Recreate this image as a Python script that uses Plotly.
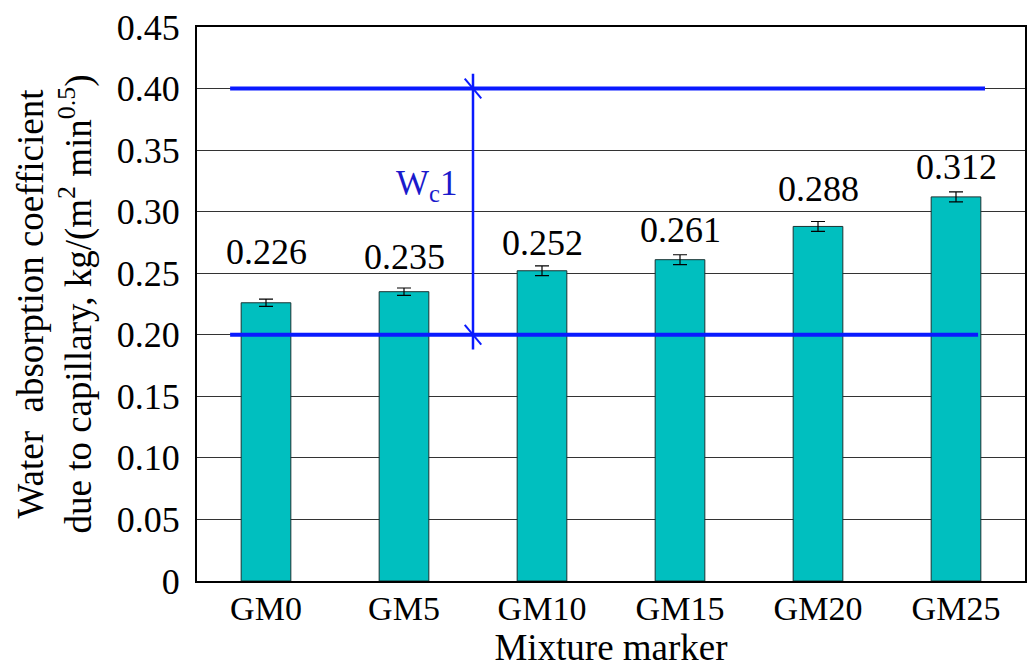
import plotly.graph_objects as go

categories = ["GM0", "GM5", "GM10", "GM15", "GM20", "GM25"]
values = [0.226, 0.235, 0.252, 0.261, 0.288, 0.312]
errors = [0.003, 0.003, 0.004, 0.004, 0.004, 0.004]
labels = ["0.226", "0.235", "0.252", "0.261", "0.288", "0.312"]
ytick_vals = [0, 0.05, 0.10, 0.15, 0.20, 0.25, 0.30, 0.35, 0.40, 0.45]
ytick_text = ["0", "0.05", "0.10", "0.15", "0.20", "0.25", "0.30", "0.35", "0.40", "0.45"]
upper_limit = 0.40
lower_limit = 0.20

# pixel lift of each value label above its bar (style only)
label_lift_px = [51, 35, 28, 30, 37, 30]

x = list(range(len(categories)))
font = "Liberation Serif"
blue = "#0a1aff"

fig = go.Figure()
fig.add_trace(go.Bar(
    x=x, y=values, width=0.36,
    marker=dict(color="#00BFBF", line=dict(color="#1a3333", width=1)),
    error_y=dict(type="data", array=errors, visible=True, color="black", thickness=1.2, width=7),
    showlegend=False,
))
for xi, v, lab, lift in zip(x, values, labels, label_lift_px):
    fig.add_annotation(x=xi, y=v, text=lab, showarrow=False, yanchor="middle", yshift=lift,
                       font=dict(family=font, size=36, color="black"))

# limit lines
fig.add_shape(type="line", x0=-0.26, x1=5.21, y0=upper_limit, y1=upper_limit,
              line=dict(color=blue, width=4))
fig.add_shape(type="line", x0=-0.26, x1=5.16, y0=lower_limit, y1=lower_limit,
              line=dict(color=blue, width=4))
# vertical dimension line
fig.add_shape(type="line", x0=1.5, x1=1.5, y0=0.188, y1=0.412,
              line=dict(color=blue, width=2.5))
for yv in (upper_limit, lower_limit):
    fig.add_shape(type="line", x0=1.44, x1=1.56, y0=yv + 0.008, y1=yv - 0.008,
                  line=dict(color=blue, width=2))
fig.add_annotation(x=1.395, y=0.321, text="W<sub>c</sub>1", showarrow=False, xanchor="right",
                   font=dict(family=font, size=35, color="#1a1acc"))

fig.update_layout(
    width=1029, height=669,
    margin=dict(l=197, r=4, t=27, b=88, autoexpand=False),
    plot_bgcolor="white", paper_bgcolor="white",
    font=dict(family=font, size=36, color="black"),
)
fig.update_xaxes(
    range=[-0.5, 5.5], tickvals=x, ticktext=categories, automargin=False,
    showgrid=False, showline=True, linecolor="black", linewidth=2, mirror=True,
    ticks="", tickfont=dict(family=font, size=34), zeroline=False, ticklabelstandoff=-4,
    title=dict(text="Mixture marker", font=dict(family=font, size=37), standoff=2),
)
fig.update_yaxes(
    range=[0, 0.45], tickvals=ytick_vals, ticktext=ytick_text, automargin=False,
    showgrid=True, gridcolor="#333333", gridwidth=1,
    showline=True, linecolor="black", linewidth=2, mirror=True,
    ticks="", tickfont=dict(family=font, size=36), zeroline=False, ticklabelstandoff=8,
    title=dict(text="Water  absorption coefficient<br>due to capillary, kg/(m<sup>2</sup> min<sup>0.5</sup>)",
               font=dict(family=font, size=37), standoff=14),
)

fig.write_html("out.html", config={"displayModeBar": False},
               post_script="document.body.style.margin='0';document.body.style.overflow='hidden';")
